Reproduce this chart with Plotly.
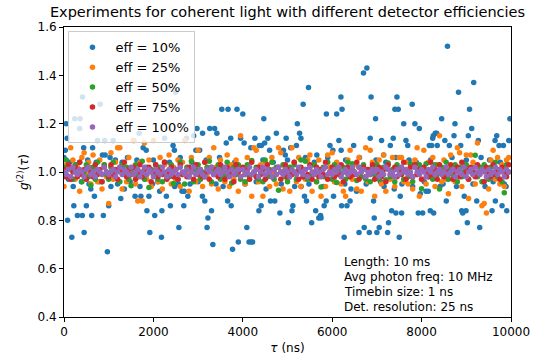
import plotly.graph_objects as go

# ---------------- data ----------------
series_names = ["eff = 10%", "eff = 25%", "eff = 50%", "eff = 75%", "eff = 100%"]
series_colors = ["#1f77b4", "#ff7f0e", "#2ca02c", "#d62728", "#9467bd"]

# eff = 10 %: visible points as (tau [ns], g2)
blue_points = [
    (0, 1.06), (30, 1.09), (50, 1.20), (70, 1.14), (80, 0.80), (100, 0.97), (130, 1.04),
    (175, 0.73), (206, 0.94), (220, 0.86), (240, 1.22), (280, 1.03), (300, 0.82), (350, 1.18),
    (360, 1.22), (390, 0.96), (410, 0.82), (414, 1.31), (440, 1.10), (450, 0.75), (500, 0.86),
    (530, 1.05), (560, 0.95), (600, 0.93), (620, 0.82), (640, 1.10), (680, 0.90), (720, 1.04),
    (750, 1.13), (790, 0.96), (810, 1.28), (860, 1.07), (880, 0.82), (910, 1.13), (920, 1.07),
    (970, 0.67), (1000, 0.86), (1030, 1.06), (1050, 0.94), (1100, 1.13), (1150, 1.05),
    (1200, 0.95), (1270, 0.89), (1300, 1.04), (1350, 0.93), (1420, 1.06), (1480, 0.96),
    (1560, 1.13), (1590, 0.90), (1630, 1.05), (1680, 1.16), (1700, 0.94), (1720, 0.90),
    (1770, 1.10), (1840, 1.09), (1855, 0.84), (1900, 0.90), (1920, 0.75), (1980, 0.95),
    (2000, 1.05), (2030, 0.82), (2100, 0.96), (2140, 0.92), (2180, 0.73), (2190, 0.84),
    (2250, 1.14), (2290, 0.90), (2340, 1.35), (2360, 1.04), (2380, 0.86), (2440, 1.11),
    (2470, 1.09), (2475, 0.94), (2500, 1.33), (2560, 0.95), (2570, 0.77), (2600, 1.06),
    (2640, 0.92), (2680, 0.86), (2690, 0.92), (2740, 1.14), (2770, 0.90), (2820, 0.95),
    (2860, 1.04), (2900, 1.15), (2950, 1.09), (2975, 1.18), (3000, 0.96), (3035, 1.09),
    (3096, 0.90), (3100, 1.16), (3150, 0.88), (3180, 1.05), (3200, 0.77), (3220, 0.81),
    (3260, 1.18), (3300, 0.84), (3330, 0.70), (3370, 1.18), (3400, 0.95), (3420, 1.16),
    (3480, 1.06), (3530, 1.26), (3560, 0.94), (3630, 1.12), (3660, 0.88), (3670, 1.26),
    (3730, 1.14), (3740, 0.86), (3770, 0.68), (3820, 1.04), (3870, 1.26), (3900, 0.71),
    (3950, 1.14), (4000, 1.24), (4030, 1.12), (4050, 0.95), (4090, 0.77), (4140, 0.71),
    (4180, 1.10), (4185, 0.71), (4220, 0.71), (4270, 1.14), (4300, 0.96), (4360, 0.84),
    (4370, 1.11), (4410, 0.86), (4415, 1.11), (4450, 1.05), (4470, 1.22), (4490, 1.12),
    (4520, 0.93), (4560, 1.14), (4600, 1.09), (4620, 0.88), (4680, 1.04), (4715, 0.88),
    (4750, 1.16), (4830, 0.83), (4860, 0.95), (4910, 1.09), (4950, 1.07), (4970, 1.14),
    (5000, 1.05), (5020, 0.79), (5070, 1.10), (5100, 0.84), (5120, 0.86), (5160, 0.94),
    (5200, 1.11), (5220, 1.20), (5270, 1.16), (5300, 1.14), (5305, 0.94), (5350, 1.28),
    (5380, 0.90), (5400, 1.06), (5425, 0.88), (5470, 1.35), (5480, 0.95), (5540, 0.79),
    (5600, 1.04), (5630, 0.84), (5656, 1.07), (5700, 0.81), (5740, 0.82), (5750, 0.81),
    (5800, 0.94), (5820, 0.86), (5865, 0.88), (5870, 1.24), (5900, 1.06), (5950, 1.11),
    (6015, 1.09), (6030, 0.90), (6060, 0.96), (6100, 1.24), (6150, 1.13), (6195, 1.31),
    (6200, 1.09), (6210, 0.86), (6220, 1.26), (6268, 0.73), (6283, 0.95), (6300, 1.05),
    (6330, 0.86), (6400, 0.88), (6420, 0.93), (6480, 1.11), (6545, 0.92), (6600, 0.75),
    (6610, 1.06), (6700, 1.41), (6716, 0.77), (6760, 0.95), (6776, 1.43), (6830, 0.75),
    (6850, 1.14), (6870, 1.31), (6926, 0.88), (6940, 0.81), (6970, 1.22), (6980, 1.05),
    (7000, 0.75), (7052, 0.77), (7080, 0.96), (7105, 1.13), (7150, 1.07), (7160, 0.94),
    (7200, 1.04), (7240, 0.75), (7260, 0.79), (7300, 1.11), (7330, 0.84), (7365, 1.14),
    (7388, 0.93), (7403, 1.26), (7420, 1.06), (7426, 0.83), (7448, 1.31), (7477, 1.26),
    (7500, 0.73), (7522, 0.90), (7553, 0.83), (7560, 0.95), (7600, 1.20), (7650, 1.13),
    (7690, 1.11), (7720, 1.05), (7790, 1.28), (7800, 0.94), (7850, 1.20), (7880, 1.04),
    (7925, 0.83), (7948, 1.18), (7970, 0.91), (8024, 0.83), (8060, 0.96), (8100, 0.92),
    (8150, 0.92), (8172, 1.11), (8194, 0.84), (8200, 1.05), (8225, 1.11), (8248, 1.14),
    (8261, 1.15), (8270, 0.83), (8306, 1.16), (8337, 1.16), (8350, 1.11), (8411, 0.94),
    (8449, 1.22), (8480, 0.95), (8520, 1.13), (8552, 0.88), (8579, 1.52), (8620, 1.11),
    (8680, 1.06), (8725, 1.15), (8747, 1.20), (8780, 0.94), (8800, 0.75), (8826, 1.33),
    (8875, 1.11), (8897, 0.84), (8920, 0.83), (8955, 0.90), (8994, 0.84), (9000, 1.05),
    (9023, 0.79), (9045, 1.15), (9072, 1.26), (9121, 1.18), (9150, 0.95), (9166, 1.37),
    (9233, 0.88), (9269, 1.13), (9300, 0.77), (9330, 1.06), (9381, 0.96), (9420, 0.94),
    (9520, 1.05), (9576, 0.84), (9600, 0.96), (9643, 1.13), (9650, 0.88), (9681, 1.15),
    (9733, 1.11), (9760, 1.04), (9800, 0.86), (9829, 1.11), (9850, 0.95), (9890, 0.94),
    (9905, 0.84), (9950, 1.13), (9975, 1.22),
]

# eff = 25 %, 50 %, 75 %, 100 %: one value every 50 ns starting at tau = 0
grid_step_ns = 50

orange_g = [
    0.94, 1.03, 0.98, 1.10, 1.05, 0.97, 1.02, 0.92, 1.06, 1.08,
    0.99, 1.04, 0.95, 1.07, 1.01, 0.96, 1.05, 0.93, 1.03, 0.98,
    0.87, 1.08, 0.97, 1.04, 1.10, 1.10, 0.93, 1.02, 0.96, 1.06,
    0.99, 1.13, 0.95, 0.88, 1.04, 0.88, 1.12, 0.97, 1.05, 0.94,
    1.13, 1.01, 0.96, 1.06, 0.93, 1.03, 0.98, 1.07, 0.95, 1.02,
    0.97, 1.05, 0.94, 1.04, 1.13, 0.99, 0.92, 1.06, 1.01, 0.96,
    1.09, 0.97, 0.94, 1.04, 0.98, 1.06, 0.95, 1.10, 1.02, 0.93,
    1.05, 0.99, 0.96, 1.07, 0.94, 1.03, 0.97, 1.05, 0.92, 1.15,
    1.01, 0.95, 1.06, 0.97, 0.90, 1.10, 1.09, 0.96, 1.03, 0.90,
    1.04, 0.98, 0.94, 1.06, 1.00, 0.95, 1.10, 1.08, 0.93, 1.02,
    0.97, 0.92, 1.10, 1.04, 0.96, 1.06, 0.94, 1.01, 0.97, 1.05,
    1.07, 0.92, 1.03, 0.96, 1.05, 0.90, 0.98, 0.94, 1.07, 1.02,
    1.08, 0.96, 1.04, 0.99, 0.95, 0.92, 0.90, 1.05, 1.09, 0.97,
    1.03, 0.93, 1.06, 0.92, 1.02, 1.10, 0.96, 1.09, 1.04, 0.90,
    0.98, 1.05, 0.95, 1.07, 0.92, 1.03, 0.97, 1.06, 0.94, 1.01,
    1.06, 1.06, 0.96, 1.04, 0.95, 1.02, 0.93, 1.05, 1.10, 0.90,
    0.97, 1.09, 0.95, 1.04, 0.98, 1.06, 0.94, 1.03, 1.15, 0.96,
    1.05, 0.97, 0.91, 1.07, 1.01, 0.96, 1.10, 1.08, 0.94, 1.03,
    1.07, 0.89, 1.07, 1.04, 0.95, 1.12, 1.02, 0.86, 0.87, 0.83,
    0.93, 1.05, 1.09, 0.97, 1.06, 0.95, 1.03, 0.94, 1.05, 1.06,
]

green_g = [
    1.02, 1.05, 0.98, 1.01, 0.97, 1.03, 0.99, 1.04, 0.96, 1.00,
    1.03, 0.98, 0.945, 1.02, 0.97, 1.04, 1.00, 0.96, 1.03, 0.99,
    0.97, 1.02, 1.04, 0.98, 1.01, 0.96, 1.03, 0.99, 1.02, 0.97,
    0.943, 1.01, 1.03, 0.98, 1.00, 1.044, 0.97, 1.02, 0.936, 1.01,
    0.99, 1.03, 0.97, 1.02, 0.96, 1.04, 1.00, 0.98, 1.03, 0.952,
    1.01, 0.97, 1.04, 0.99, 0.95, 1.02, 0.98, 1.044, 0.96, 1.01,
    1.03, 0.97, 1.00, 0.98, 1.02, 1.044, 0.96, 1.01, 0.99, 1.03,
    0.97, 1.02, 0.98, 1.04, 1.00, 0.955, 1.02, 0.99, 1.03, 0.97,
    1.01, 0.96, 1.03, 0.98, 1.048, 0.99, 1.02, 0.97, 1.00, 0.96,
    1.05, 0.98, 1.01, 1.04, 0.97, 1.02, 0.924, 1.00, 1.03, 0.98,
    0.96, 1.02, 0.99, 1.03, 0.97, 1.01, 1.05, 0.98, 1.044, 0.97,
    1.02, 0.99, 1.03, 0.96, 1.01, 0.938, 1.02, 0.98, 1.04, 1.00,
    0.97, 1.03, 0.957, 1.01, 0.99, 1.02, 0.97, 1.04, 0.98, 1.034,
    1.00, 0.965, 1.02, 0.98, 1.03, 0.97, 1.01, 0.96, 1.02, 0.99,
    1.03, 0.97, 1.00, 1.02, 0.968, 1.037, 0.98, 1.01, 0.96, 1.03,
    0.99, 1.02, 0.97, 1.00, 0.98, 1.034, 0.961, 1.02, 0.99, 1.03,
    0.931, 1.01, 1.034, 0.98, 1.00, 0.97, 1.03, 0.99, 0.93, 1.02,
    0.98, 1.04, 0.97, 1.01, 0.99, 1.03, 0.96, 1.02, 0.98, 1.00,
    1.03, 0.97, 1.01, 0.99, 1.069, 0.98, 1.02, 0.96, 1.03, 1.00,
    0.97, 1.02, 0.99, 1.04, 0.98, 1.01, 0.96, 0.914, 1.03, 1.00,
]

red_g = [
    1.01, 0.98, 1.03, 0.97, 1.00, 1.02, 0.98, 1.04, 0.99, 1.01,
    0.97, 1.02, 1.00, 0.98, 1.03, 0.99, 1.01, 0.96, 1.02, 1.00,
    0.98, 1.03, 0.99, 1.01, 0.97, 1.02, 1.00, 1.04, 0.98, 1.01,
    0.99, 1.02, 0.97, 1.00, 1.03, 0.98, 1.01, 0.99, 1.02, 0.96,
    1.00, 1.03, 0.98, 1.01, 0.99, 1.04, 0.97, 1.00, 1.02, 0.98,
    1.01, 0.97, 1.03, 0.99, 1.00, 0.98, 1.02, 1.00, 0.97, 1.03,
    0.99, 1.01, 0.98, 1.04, 1.00, 0.97, 1.02, 0.99, 1.01, 0.98,
    1.03, 1.00, 0.97, 1.02, 0.99, 1.01, 0.96, 1.03, 1.00, 0.98,
    1.02, 0.99, 1.01, 0.97, 1.04, 1.00, 0.98, 1.02, 0.99, 1.01,
    0.97, 1.03, 1.00, 0.98, 1.01, 0.99, 1.02, 0.97, 1.00, 1.03,
    0.98, 1.01, 0.99, 1.04, 1.00, 0.97, 1.02, 0.98, 1.01, 0.99,
    1.03, 0.97, 1.00, 1.02, 0.98, 1.01, 0.99, 1.04, 0.97, 1.00,
    1.02, 0.98, 1.01, 0.99, 1.03, 0.96, 1.00, 1.02, 0.98, 1.01,
    0.99, 1.04, 0.97, 1.00, 1.02, 0.98, 1.01, 0.99, 1.03, 0.97,
    1.00, 1.02, 0.98, 1.01, 0.96, 1.03, 0.99, 1.00, 1.02, 0.98,
    1.01, 0.99, 1.04, 0.97, 1.00, 1.02, 0.98, 1.03, 0.99, 1.01,
    0.97, 1.02, 1.00, 0.98, 1.04, 0.99, 1.01, 0.97, 1.03, 1.00,
    0.98, 1.01, 0.99, 1.03, 0.97, 1.00, 1.02, 0.98, 1.04, 0.99,
    1.01, 0.97, 1.02, 1.00, 0.98, 1.03, 0.99, 1.01, 0.96, 1.02,
    1.00, 0.98, 1.03, 0.99, 1.01, 0.97, 1.02, 1.00, 0.98, 1.03,
]

purple_g = [
    1.00, 0.99, 1.01, 0.98, 1.02, 1.00, 0.99, 1.01, 1.00, 0.98,
    1.01, 1.02, 0.99, 1.00, 0.98, 1.01, 1.00, 0.99, 1.02, 1.00,
    0.99, 1.00, 1.01, 0.98, 1.00, 1.02, 0.99, 1.01, 1.00, 0.99,
    1.02, 0.99, 1.00, 1.01, 0.98, 1.00, 1.02, 0.99, 1.01, 1.00,
    0.98, 1.01, 1.00, 0.99, 1.02, 1.00, 0.98, 1.01, 0.99, 1.00,
    1.01, 0.99, 1.02, 1.00, 0.99, 1.01, 0.98, 1.00, 1.02, 0.99,
    1.00, 1.01, 0.99, 0.98, 1.01, 1.00, 1.02, 0.99, 1.00, 1.01,
    0.99, 1.00, 1.02, 1.00, 0.98, 1.01, 0.99, 1.00, 1.01, 0.98,
    1.01, 0.99, 1.00, 1.02, 0.99, 1.00, 1.01, 0.98, 1.00, 1.02,
    0.99, 1.01, 1.00, 0.98, 1.01, 0.99, 1.02, 1.00, 0.99, 1.01,
    1.00, 0.98, 1.01, 1.00, 0.99, 1.02, 1.00, 0.99, 1.01, 0.98,
    1.02, 1.00, 0.99, 1.01, 1.00, 0.98, 1.01, 1.02, 0.99, 1.00,
    0.99, 1.01, 1.00, 1.02, 0.98, 1.00, 1.01, 0.99, 1.00, 1.02,
    1.00, 0.99, 1.02, 1.00, 1.01, 0.98, 1.00, 0.99, 1.01, 1.00,
    1.01, 0.98, 1.00, 0.99, 1.02, 1.01, 0.99, 1.00, 0.98, 1.01,
    0.99, 1.02, 1.00, 1.01, 0.99, 1.00, 0.98, 1.02, 1.00, 0.99,
    1.01, 1.00, 0.98, 1.01, 1.00, 1.02, 0.99, 1.00, 1.01, 0.99,
    1.00, 1.02, 0.99, 1.00, 1.01, 0.98, 1.00, 1.01, 0.99, 1.02,
    0.98, 1.00, 1.01, 0.99, 1.02, 1.00, 0.99, 1.01, 1.00, 0.98,
    1.01, 0.99, 1.00, 1.02, 0.99, 1.01, 1.00, 0.98, 1.01, 1.00,
]

x_ticks = [0, 2000, 4000, 6000, 8000, 10000]
x_tick_labels = ["0", "2000", "4000", "6000", "8000", "10000"]
y_ticks = [0.4, 0.6, 0.8, 1.0, 1.2, 1.4, 1.6]
y_tick_labels = ["0.4", "0.6", "0.8", "1.0", "1.2", "1.4", "1.6"]

info_lines = ["Length: 10 ms", "Avg photon freq: 10 MHz", "Timebin size: 1 ns", "Det. resolution: 25 ns"]
title_text = "Experiments for coherent light with different detector efficiencies"

# ---------------- figure ----------------
FONT = "DejaVu Sans, Arial, sans-serif"
fig = go.Figure()

blue_tau = [p[0] for p in blue_points]
blue_g = [p[1] for p in blue_points]

grid_series = [orange_g, green_g, red_g, purple_g]
all_x = [blue_tau] + [[i * grid_step_ns for i in range(len(s))] for s in grid_series]
all_y = [blue_g] + grid_series

for name, color, xs, ys in zip(series_names, series_colors, all_x, all_y):
    fig.add_trace(go.Scatter(
        x=xs, y=ys, mode="markers", name=name,
        marker=dict(color=color, size=5.5, line=dict(width=0)),
    ))

axis_common = dict(
    showline=True, linecolor="black", linewidth=1, mirror=True,
    ticks="outside", ticklen=4, tickwidth=1, tickcolor="black",
    showgrid=False, zeroline=False, automargin=False,
    tickfont=dict(family=FONT, size=12, color="black"),
)

fig.update_layout(
    width=552, height=361,
    margin=dict(l=64, r=41, t=27, b=44),
    paper_bgcolor="white", plot_bgcolor="white",
    font=dict(family=FONT, size=12, color="black"),
    title=dict(text=title_text, x=0.5, xref="paper", xanchor="center",
               y=1 - 12 / 361, yref="container", yanchor="middle",
               font=dict(family=FONT, size=14.5, color="black")),
    xaxis=dict(range=[0, 10000], tickvals=x_ticks, ticktext=x_tick_labels,
               title=dict(text="<i>τ</i> (ns)", standoff=5,
                          font=dict(family=FONT, size=12)),
               **axis_common),
    yaxis=dict(range=[0.4, 1.6], tickvals=y_ticks, ticktext=y_tick_labels,
               title=dict(text="<i>g</i><sup>(2)</sup>(<i>τ</i>)", standoff=6,
                          font=dict(family=FONT, size=12)),
               **axis_common),
    legend=dict(x=0.01, y=0.985, xanchor="left", yanchor="top",
                bgcolor="rgba(255,255,255,0.8)", bordercolor="#cccccc", borderwidth=1,
                font=dict(family=FONT, size=13, color="black"),
                itemsizing="trace", itemwidth=36),
    showlegend=True,
)

info_y = [0.188, 0.137, 0.0866, 0.0359]
for text, yy in zip(info_lines, info_y):
    fig.add_annotation(text=text, x=0.6226, y=yy, xref="paper", yref="paper",
                       xanchor="left", yanchor="middle", showarrow=False, align="left",
                       font=dict(family=FONT, size=12, color="black"))

fig.write_html("out.html")
